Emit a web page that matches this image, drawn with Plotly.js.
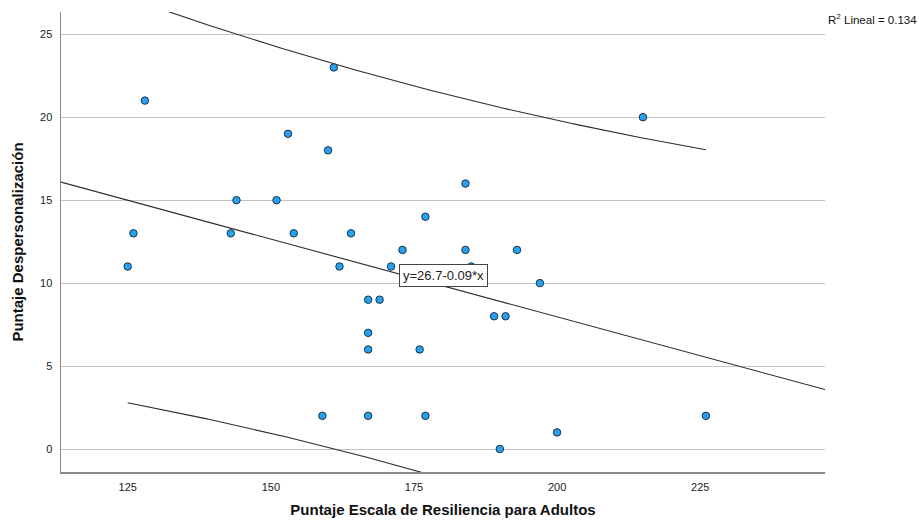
<!DOCTYPE html>
<html>
<head>
<meta charset="utf-8">
<script src="https://cdn.plot.ly/plotly-3.0.1.min.js"></script>
<style>html,body{margin:0;padding:0;background:#fff;}#chart{width:919px;height:525px;}</style>
</head>
<body>
<div id="chart"></div>
<script>
// Data
const resiliencia = [128,153,160,184,144,151,177,126,143,154,164,173,184,193,125,162,171,185,197,167,169,189,191,167,167,176,161,215,159,167,177,190,200,226];
const despersonalizacion = [21,19,18,16,15,15,14,13,13,13,13,12,12,12,11,11,11,11,10,9,9,8,8,7,6,6,23,20,2,2,2,0,1,2];
const xTicks = [125,150,175,200,225];
const yTicks = [0,5,10,15,20,25];
const xRange = [113.35, 246.8];
const yRange = [-1.386, 26.34];
const tCrit = 2.0369; // t(0.975, df=32)

// Linear fit + 95% individual prediction interval from the data
const n = resiliencia.length;
const mx = resiliencia.reduce((a,b)=>a+b,0)/n;
const my = despersonalizacion.reduce((a,b)=>a+b,0)/n;
let sxx=0, sxy=0, syy=0;
for (let i=0;i<n;i++){const dx=resiliencia[i]-mx, dy=despersonalizacion[i]-my; sxx+=dx*dx; sxy+=dx*dy; syy+=dy*dy;}
const slope = sxy/sxx, intercept = my - slope*mx;
const r2 = (sxy*sxy)/(sxx*syy);
const s = Math.sqrt((syy - sxy*sxy/sxx)/(n-2));
const fitX = [xRange[0], xRange[1]];
const fitY = fitX.map(x=>intercept+slope*x);
const xmin = Math.min(...resiliencia), xmax = Math.max(...resiliencia);
const piX=[], piLo=[], piHi=[];
for (let k=0;k<=200;k++){
  const x = xmin + (xmax-xmin)*k/200;
  const hw = tCrit*s*Math.sqrt(1+1/n+(x-mx)*(x-mx)/sxx);
  const yh = intercept+slope*x;
  piX.push(x); piLo.push(yh-hw); piHi.push(yh+hw);
}

const lineStyle = {color:'#2b2b2b', width:1.1};
const traces = [
  {x:fitX, y:fitY, mode:'lines', line:lineStyle, hoverinfo:'skip'},
  {x:piX, y:piHi, mode:'lines', line:lineStyle, hoverinfo:'skip'},
  {x:piX, y:piLo, mode:'lines', line:lineStyle, hoverinfo:'skip'},
  {x:resiliencia, y:despersonalizacion, mode:'markers', type:'scatter',
   marker:{size:7.5, color:'#27a0ef', line:{color:'#1d3447', width:1}}}
];

const font = "Liberation Sans, Arial, Helvetica, sans-serif";
const layout = {
  width:919, height:525,
  margin:{l:61, r:94, t:12, b:53},
  paper_bgcolor:'#fff', plot_bgcolor:'#fff',
  showlegend:false,
  font:{family:font, size:11, color:'#222'},
  xaxis:{range:xRange, tickvals:xTicks, ticktext:xTicks.map(String), showgrid:false, zeroline:false,
    showline:true, linecolor:'#8a8a8a', linewidth:1.5, ticks:'', ticklabelstandoff:4,
    tickfont:{family:font, size:11, color:'#222'},
    title:{text:'Puntaje Escala de Resiliencia para Adultos', font:{family:font, size:15, color:'#111', weight:'bold'}, standoff:13}},
  yaxis:{range:yRange, tickvals:yTicks, ticktext:yTicks.map(String), showgrid:true, gridcolor:'#c4c4c4', gridwidth:1, zeroline:false,
    showline:true, linecolor:'#8a8a8a', linewidth:1.5, ticks:'', ticklabelstandoff:5,
    tickfont:{family:font, size:11, color:'#222'},
    title:{text:'Puntaje Despersonalización', font:{family:font, size:15, color:'#111', weight:'bold'}, standoff:13}},
  annotations:[
    {x:180.08, y:10.48, xref:'x', yref:'y', text:'y='+intercept.toFixed(1)+'-'+Math.abs(slope).toFixed(2)+'*x', showarrow:false,
     bgcolor:'#fff', bordercolor:'#444', borderwidth:1, borderpad:3, font:{family:font, size:13, color:'#222'}},
    {x:1.001, y:0.985, xref:'paper', yref:'paper', xanchor:'left', yanchor:'middle', showarrow:false,
     text:'R<sup>2</sup> Lineal = '+r2.toFixed(3), font:{family:font, size:11.5, color:'#111'}}
  ]
};
Plotly.newPlot('chart', traces, layout, {staticPlot:true, displayModeBar:false});
</script>
</body>
</html>
